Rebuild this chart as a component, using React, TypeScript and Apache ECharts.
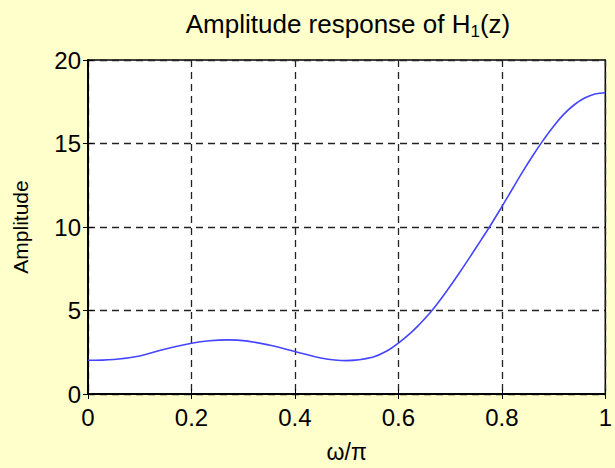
import React, { useEffect, useRef } from "react";
import * as echarts from "echarts";

const omegaOverPi = [
  0, 0.05, 0.1, 0.15, 0.2, 0.235, 0.27, 0.305, 0.35, 0.4, 0.45, 0.5, 0.55,
  0.58, 0.6, 0.62, 0.64, 0.66, 0.68, 0.7, 0.72, 0.74, 0.76, 0.776, 0.8, 0.82,
  0.84, 0.86, 0.88, 0.9, 0.92, 0.94, 0.96, 0.98, 1.0,
];
const amplitude = [
  2.02, 2.07, 2.28, 2.7, 3.04, 3.19, 3.24, 3.18, 2.93, 2.55, 2.16, 2.0, 2.2,
  2.62, 3.05, 3.55, 4.15, 4.82, 5.6, 6.45, 7.35, 8.28, 9.23, 10.0, 11.22,
  12.26, 13.3, 14.28, 15.2, 16.04, 16.76, 17.32, 17.72, 17.96, 18.04,
];
const xTicks = { min: 0, max: 1, interval: 0.2 };
const yTicks = { min: 0, max: 20, interval: 5 };

const titleMain = "Amplitude response of H";
const titleSub = "1";
const titleTail = "(z)";
const yName = "Amplitude";
const xName = "ω/π";

const FONT = "'Liberation Sans', Arial, Helvetica, sans-serif";

export default function App() {
  const ref = useRef<HTMLDivElement>(null);
  useEffect(() => {
    if (!ref.current) return;
    const chart = echarts.init(ref.current, null, { renderer: "svg" });
    const points = omegaOverPi.map((x, i) => [x, amplitude[i]]);
    const gridLeft = 88;
    const gridRight = 7;
    const gridTop = 60;
    const gridBottom = 68;
    const plotCenterX = gridLeft + (615 - gridLeft - gridRight) / 2;
    chart.setOption({
      animation: false,
      backgroundColor: "#FFFFCC",
      textStyle: { fontFamily: FONT },
      grid: {
        left: gridLeft,
        right: gridRight,
        top: gridTop,
        bottom: gridBottom,
        show: true,
        backgroundColor: "#ffffff",
        borderColor: "#000",
        borderWidth: 1.5,
      },
      graphic: [
        {
          type: "text",
          x: plotCenterX,
          y: 7,
          z: 10,
          style: {
            text: `{a|${titleMain}}{s|${titleSub}}{a|${titleTail}}`,
            textAlign: "center",
            fill: "#000",
            rich: {
              a: {
                fontSize: 26,
                fontFamily: FONT,
                lineHeight: 33,
                fill: "#000",
                color: "#000",
              },
              s: {
                fontSize: 17,
                fontFamily: FONT,
                lineHeight: 17,
                verticalAlign: "bottom",
                fill: "#000",
                color: "#000",
              },
            },
          },
        },
      ],
      xAxis: [
        {
          type: "value",
          min: xTicks.min,
          max: xTicks.max,
          interval: xTicks.interval,
          position: "bottom",
          name: xName,
          nameLocation: "middle",
          nameGap: 46,
          nameTextStyle: { fontSize: 23, color: "#000", fontFamily: FONT },
          axisLine: { show: true, lineStyle: { color: "#000", width: 1.5 } },
          axisTick: { show: true, inside: true, length: 5, lineStyle: { color: "#000" } },
          axisLabel: { fontSize: 24, color: "#000", margin: 11, fontFamily: FONT },
          splitLine: {
            show: true,
            lineStyle: { color: "#222", width: 1.3, type: [7, 5] },
          },
        },
        {
          type: "value",
          min: xTicks.min,
          max: xTicks.max,
          interval: xTicks.interval,
          position: "top",
          axisLine: { show: true, lineStyle: { color: "#000", width: 1.5 } },
          axisTick: { show: true, inside: true, length: 5, lineStyle: { color: "#000" } },
          axisLabel: { show: false },
          splitLine: { show: false },
        },
      ],
      yAxis: [
        {
          type: "value",
          min: yTicks.min,
          max: yTicks.max,
          interval: yTicks.interval,
          position: "left",
          name: yName,
          nameLocation: "middle",
          nameGap: 57,
          nameTextStyle: { fontSize: 21, color: "#000", fontFamily: FONT },
          axisLine: { show: true, lineStyle: { color: "#000", width: 1.5 } },
          axisTick: { show: true, inside: true, length: 5, lineStyle: { color: "#000" } },
          axisLabel: { fontSize: 24, color: "#000", margin: 7, fontFamily: FONT },
          splitLine: {
            show: true,
            lineStyle: { color: "#222", width: 1.3, type: [7, 5] },
          },
        },
        {
          type: "value",
          min: yTicks.min,
          max: yTicks.max,
          interval: yTicks.interval,
          position: "right",
          axisLine: { show: true, lineStyle: { color: "#000", width: 1.5 } },
          axisTick: { show: true, inside: true, length: 5, lineStyle: { color: "#000" } },
          axisLabel: { show: false },
          splitLine: { show: false },
        },
      ],
      series: [
        {
          type: "line",
          data: points,
          xAxisIndex: 0,
          yAxisIndex: 0,
          showSymbol: false,
          smooth: 0.4,
          lineStyle: { color: "#4545ff", width: 1.6 },
          z: 5,
        },
      ],
    });
    return () => chart.dispose();
  }, []);
  return (
    <div
      ref={ref}
      style={{ position: "fixed", left: 0, top: 0, width: 615, height: 468 }}
    />
  );
}
